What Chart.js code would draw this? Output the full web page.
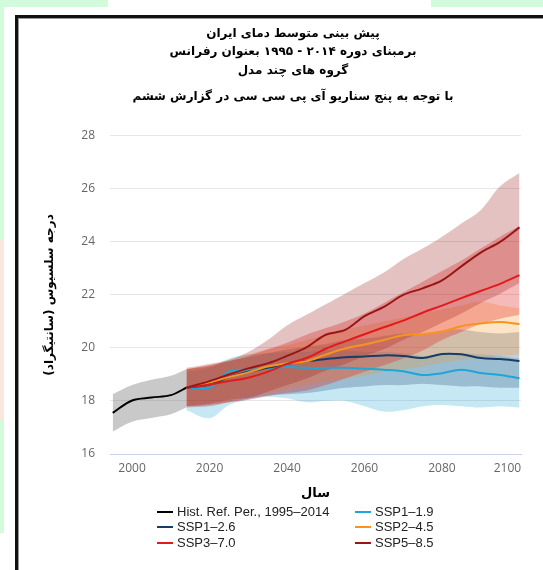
<!DOCTYPE html>
<html>
<head>
<meta charset="utf-8">
<script src="https://cdn.jsdelivr.net/npm/chart.js@4.4.1/dist/chart.umd.min.js"></script>
<style>
  html, body { margin: 0; padding: 0; width: 543px; height: 570px; overflow: hidden; background: #fff; }
  .green { position: absolute; background: #d2fbdc; }
  #frame { position: absolute; left: 15px; top: 15px; width: 600px; height: 600px; border-left: 3px solid #111; border-top: 3px solid #111; }
  #frame2 { position: absolute; left: 18px; top: 18px; width: 600px; height: 600px; border-left: 1px solid #9a9a9a; border-top: 1px solid #9a9a9a; }
  #wrap { position: absolute; left: 19px; top: 0; width: 548px; height: 570px; }
  .item { position: absolute; font: 13px "Liberation Sans", sans-serif; color: #222; white-space: nowrap; line-height: 14px; }
  .item span { display: inline-block; width: 16px; height: 2px; margin-right: 4px; vertical-align: middle; position: relative; top: -1px; }
</style>
</head>
<body>
<div class="green" style="left:0;top:0;width:108px;height:7px"></div>
<div class="green" style="left:0;top:0;width:4px;height:533px"></div>
<div class="green" style="left:431px;top:0;width:112px;height:7px"></div>
<div style="position:absolute;left:0;top:240px;width:4px;height:180px;background:#fbe6de"></div>
<div id="frame"></div>
<div id="frame2"></div>
<div id="wrap"><canvas id="chart" width="548" height="570"></canvas></div>
<div id="legend"></div>
<script>
// title text
const titleLines = ["پیش بینی متوسط دمای ایران", "برمبنای دوره ۲۰۱۴ - ۱۹۹۵ بعنوان رفرانس", "گروه های چند مدل"];
const subtitleLine = "با توجه به پنج سناریو آی پی سی سی در گزارش ششم";
const yTitle = "\u200Fدرجه سلسیوس (سانتیگراد)\u200F";
const xTitle = "سال";
const xTicks = [2000, 2020, 2040, 2060, 2080, 2100];

// historical reference period
const histYears = [1995, 2000, 2005, 2010, 2014];
const histMean = [17.55, 18.02, 18.13, 18.22, 18.5];
const histHigh = [18.25, 18.6, 18.8, 18.95, 19.2];
const histLow = [16.85, 17.22, 17.36, 17.5, 17.75];

// projections
const projYears = [2014, 2020, 2025, 2030, 2035, 2040, 2045, 2050, 2055, 2060, 2065, 2070, 2075, 2080, 2085, 2090, 2095, 2100];

const ssp119 = [18.5, 18.5, 19.12, 19.18, 19.22, 19.28, 19.25, 19.25, 19.25, 19.22, 19.18, 19.12, 18.98, 19.05, 19.18, 19.06, 18.98, 18.86];
const ssp119High = [19.1, 19.25, 19.6, 19.75, 19.8, 19.85, 19.85, 19.9, 19.9, 19.85, 19.85, 19.8, 19.7, 19.75, 19.8, 19.75, 19.7, 19.6];
const ssp119Low = [17.65, 17.35, 17.85, 18.05, 18.15, 18.1, 17.95, 18.0, 18.0, 17.8, 17.6, 17.65, 17.8, 17.85, 17.8, 17.75, 17.8, 17.75];

const ssp126 = [18.5, 18.62, 18.9, 19.1, 19.25, 19.4, 19.5, 19.58, 19.65, 19.68, 19.72, 19.7, 19.62, 19.77, 19.76, 19.62, 19.58, 19.51];
const ssp126High = [19.2, 19.3, 19.5, 19.65, 19.8, 19.95, 20.05, 20.15, 20.3, 20.35, 20.45, 20.55, 20.5, 20.65, 20.7, 20.6, 20.55, 20.6];
const ssp126Low = [17.8, 17.9, 18.05, 18.1, 18.2, 18.25, 18.3, 18.4, 18.5, 18.55, 18.6, 18.6, 18.65, 18.6, 18.55, 18.55, 18.5, 18.5];

const ssp245 = [18.5, 18.7, 18.9, 19.08, 19.3, 19.42, 19.5, 19.75, 19.98, 20.13, 20.3, 20.48, 20.52, 20.62, 20.82, 20.92, 20.98, 20.9];
const ssp245High = [19.2, 19.35, 19.55, 19.75, 19.95, 20.1, 20.3, 20.5, 20.7, 20.85, 21.0, 21.15, 21.3, 21.45, 21.6, 21.75, 21.6, 21.5];
const ssp245Low = [17.8, 17.9, 18.0, 18.2, 18.3, 18.45, 18.6, 18.75, 18.85, 18.95, 19.1, 19.2, 19.3, 19.45, 19.55, 19.65, 19.7, 19.75];

const ssp370 = [18.5, 18.62, 18.75, 18.88, 19.1, 19.4, 19.62, 19.97, 20.25, 20.52, 20.78, 21.03, 21.33, 21.6, 21.88, 22.15, 22.42, 22.75];
const ssp370High = [19.2, 19.35, 19.5, 19.7, 19.95, 20.2, 20.5, 20.75, 21.0, 21.3, 21.7, 22.1, 22.5, 22.9, 23.3, 23.75, 24.2, 24.6];
const ssp370Low = [17.8, 17.85, 17.95, 18.05, 18.2, 18.3, 18.4, 18.6, 18.85, 19.1, 19.35, 19.6, 19.9, 20.3, 20.6, 20.9, 21.1, 21.25];

const ssp585 = [18.5, 18.75, 19.0, 19.23, 19.42, 19.7, 20.02, 20.5, 20.68, 21.2, 21.55, 22.0, 22.25, 22.55, 23.08, 23.6, 24.0, 24.55];
const ssp585High = [19.25, 19.4, 19.55, 19.85, 20.3, 20.85, 21.25, 21.65, 22.05, 22.45, 22.85, 23.35, 23.75, 24.2, 24.7, 25.2, 26.1, 26.6];
const ssp585Low = [17.75, 17.8, 17.95, 18.1, 18.35, 18.6, 18.85, 19.15, 19.4, 19.7, 19.95, 20.3, 20.6, 20.95, 21.3, 21.7, 22.05, 22.45];

const legendNames = ["Hist. Ref. Per., 1995–2014", "SSP1–1.9", "SSP1–2.6", "SSP2–4.5", "SSP3–7.0", "SSP5–8.5"];
const lineColors = ["#000000", "#1ea6d6", "#173c66", "#f7941d", "#e31a1c", "#991616"];
const bandColors = ["rgba(120,120,120,0.4)", "rgba(30,168,214,0.26)", "rgba(23,60,102,0.25)",
                    "rgba(247,148,29,0.25)", "rgba(227,26,28,0.3)", "rgba(153,20,20,0.26)"];

const toPoints = (xs, ys) => xs.map((x, i) => ({ x: x, y: ys[i] }));

const datasets = [];
function addBand(name, years, high, low, color, order) {
  datasets.push({ label: name + " max", data: toPoints(years, high), backgroundColor: color,
    borderColor: "transparent", borderWidth: 0, pointRadius: 0, fill: "+1", tension: 0.35, order: order });
  datasets.push({ label: name + " min", data: toPoints(years, low), borderColor: "transparent",
    borderWidth: 0, pointRadius: 0, fill: false, tension: 0.35, order: order });
}
function addLine(name, years, mean, color, order) {
  datasets.push({ label: name, data: toPoints(years, mean), borderColor: color, borderWidth: 2,
    pointRadius: 0, fill: false, tension: 0.35, order: order });
}

const means = [histMean, ssp119, ssp126, ssp245, ssp370, ssp585];
const highs = [histHigh, ssp119High, ssp126High, ssp245High, ssp370High, ssp585High];
const lows = [histLow, ssp119Low, ssp126Low, ssp245Low, ssp370Low, ssp585Low];

for (let i = 0; i < legendNames.length; i++) {
  const years = i === 0 ? histYears : projYears;
  addBand(legendNames[i], years, highs[i], lows[i], bandColors[i], 70 - i * 10);
}
for (let i = 0; i < legendNames.length; i++) {
  const years = i === 0 ? histYears : projYears;
  addLine(legendNames[i], years, means[i], lineColors[i], 6 - i);
}

const persianFont = { family: "DejaVu Sans", size: 12, weight: "bold", lineHeight: 1.54 };
const tickFont = { family: "Open Sans", size: 12 };

new Chart(document.getElementById("chart"), {
  type: "line",
  data: { datasets: datasets },
  options: {
    responsive: false,
    animation: false,
    events: [],
    layout: { padding: { left: 0, right: 0, top: 0, bottom: 66 } },
    plugins: {
      legend: { display: false },
      tooltip: { enabled: false },
      title: { display: true, text: titleLines, color: "#000", font: persianFont, padding: { top: 24.5, bottom: 0 } },
      subtitle: { display: true, text: subtitleLine, color: "#000", font: persianFont, padding: { top: 7.5, bottom: 30 } }
    },
    scales: {
      x: {
        type: "linear", min: 1994.3, max: 2100.4,
        grid: { display: false, drawTicks: false },
        border: { display: true, color: "#ccd6eb", width: 1 },
        ticks: {
          color: "#666", font: tickFont, padding: 7.8,
          // the last label sits inside the plot edge, as in the reference
          callback: (v) => (v === 2100 ? String(v) + "\u2003\u2003" : String(v))
        },
        afterBuildTicks: (s) => { s.ticks = xTicks.map((v) => ({ value: v })); },
        afterFit: (s) => { s.height = 50; },
        title: { display: true, text: xTitle, color: "#000",
          font: { family: "DejaVu Sans", size: 13, weight: "bold", lineHeight: 1.2 }, padding: { top: 0, bottom: 3 } }
      },
      y: {
        min: 16, max: 28,
        ticks: { stepSize: 2, color: "#666", font: tickFont, padding: 15 },
        grid: { color: "#e6e6e6", drawTicks: false },
        border: { display: false },
        afterFit: (s) => { s.width = 91; },
        title: { display: true, text: yTitle, color: "#000",
          font: { family: "DejaVu Sans", size: 12, weight: "bold", lineHeight: 1.2 }, padding: { top: 24, bottom: 0 } }
      },
      yr: {
        position: "right", display: true,
        grid: { display: false, drawOnChartArea: false, drawTicks: false },
        ticks: { display: false },
        border: { display: false },
        afterFit: (s) => { s.width = 46; }
      }
    }
  }
});

// legend, two columns
const legendCols = [157, 355];
const legendRows = [512, 527, 543];
const legend = document.getElementById("legend");
legendNames.forEach((name, i) => {
  const el = document.createElement("div");
  el.className = "item";
  el.style.left = legendCols[i % 2] + "px";
  el.style.top = (legendRows[Math.floor(i / 2)] - 7) + "px";
  el.innerHTML = '<span style="background:' + lineColors[i] + '"></span>' + name;
  legend.appendChild(el);
});
</script>
</body>
</html>
